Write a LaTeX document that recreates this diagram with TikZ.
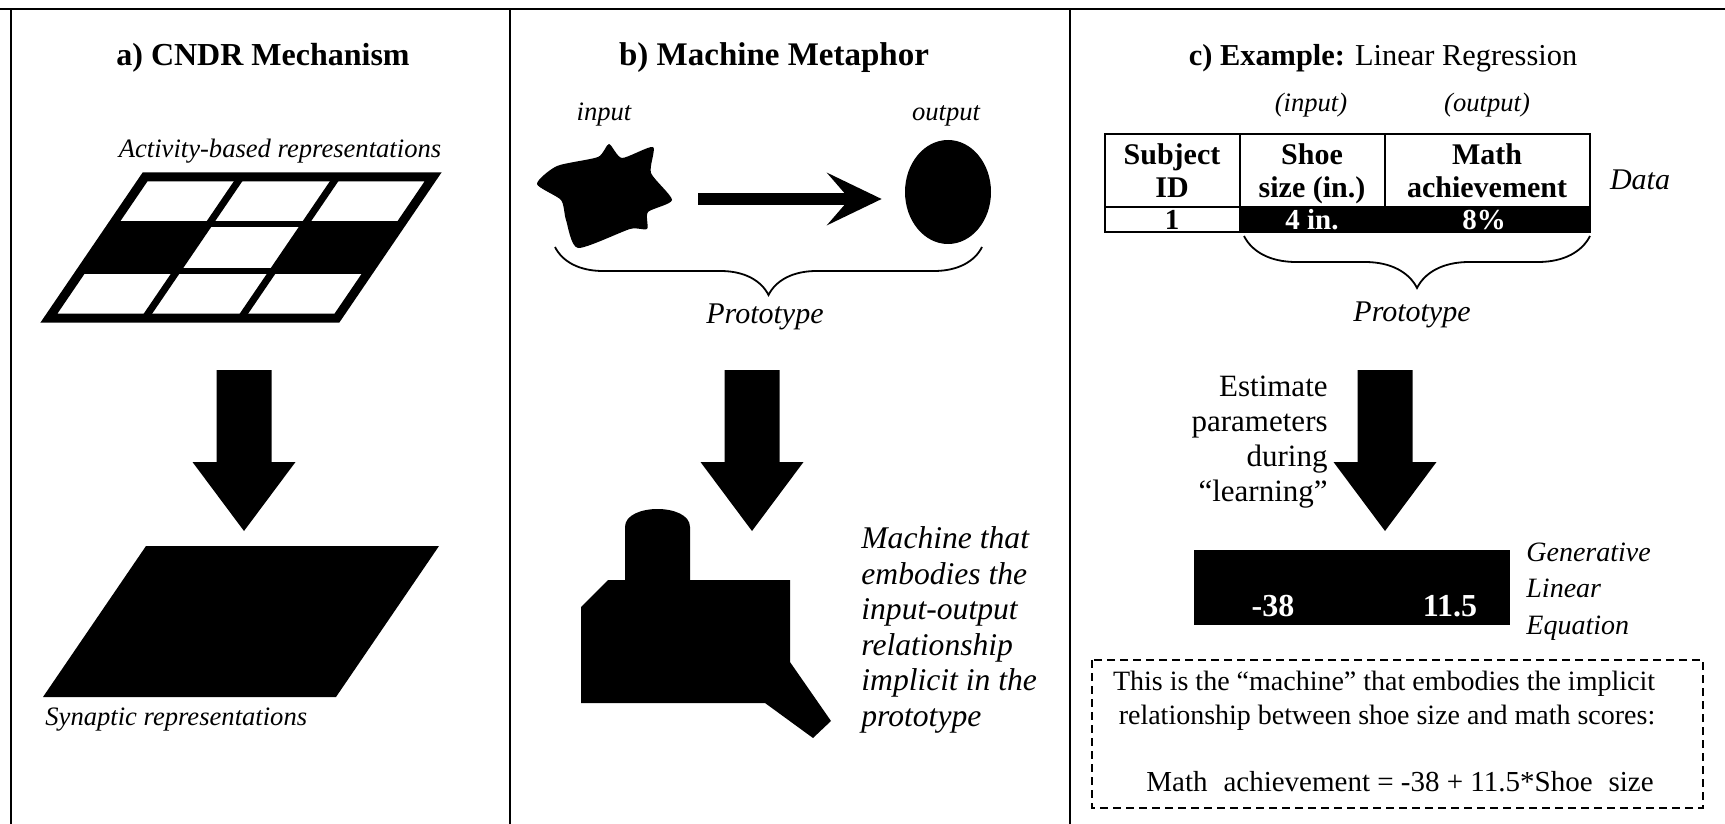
\documentclass[tikz,border=0pt]{standalone}
\usepackage{fontspec}
\setmainfont{Liberation Serif}
\usetikzlibrary{positioning,arrows.meta,shapes.geometric,decorations.pathreplacing}

% text styles (sizes in pt, one picture unit is half a point)
\tikzset{
  paneltitle/.style={anchor=base, inner sep=0pt, font=\fontsize{16.5}{19}\selectfont\bfseries},
  itlabel/.style={anchor=base, inner sep=0pt, font=\fontsize{13.3}{16}\selectfont\itshape},
  protolabel/.style={anchor=base, inner sep=0pt, font=\fontsize{15}{17.5}\selectfont\itshape},
  sidetext/.style={inner sep=0pt, font=\fontsize{15.8}{17.75}\selectfont\itshape},
  tabtext/.style={anchor=base, inner sep=0pt, font=\fontsize{15}{17}\selectfont\bfseries},
  celltext/.style={anchor=base, inner sep=0pt, font=\fontsize{14.5}{16}\selectfont\bfseries},
  boxtext/.style={anchor=base, inner sep=0pt, font=\fontsize{14}{16}\selectfont},
  frameline/.style={line width=1.25pt},
  tabline/.style={line width=1.2pt},
  protobrace/.style={decorate, decoration={brace, mirror, amplitude=#1}, line width=0.9pt},
  fatdown/.pic={
    \fill (-27.5,0) -- (27.5,0) -- (27.5,92) -- (51.5,92) -- (0,161)
      -- (-51.5,92) -- (-27.5,92) -- cycle;
  },
}

\begin{document}
\begin{tikzpicture}[x=0.5pt, y=-0.5pt]
  \useasboundingbox (0,0) rectangle (1725,824);

  % frame and panel dividers
  \draw[frameline] (0,9) -- (1725,9);
  \foreach \xd in {11,510,1070}
    \draw[frameline] (\xd,9) -- (\xd,824);

  %% a) CNDR mechanism
  \node[paneltitle, font=\fontsize{16}{19}\selectfont\bfseries] (atitle) at (263,66) {a) CNDR Mechanism};
  \node[itlabel] (activity) at (280,157) {Activity-based representations};

  % activity grid: sheared 3x3 board
  \begin{scope}[shift={(24.5pt,-159pt)}, x={(144pt,0pt)}, y={(48pt,70.5pt)}]
    \foreach \c in {0,2}
      \fill (\c/3,1/3) -- ++(1/3,0) -- ++(0,1/3) -- ++(-1/3,0) -- cycle;
    \foreach \t in {1,2} {
      \draw[line width=3.5pt] (\t/3,0) -- (\t/3,1);
      \draw[line width=3pt] (0,\t/3) -- (1,\t/3);
    }
    \draw[line width=4.5pt, line join=miter] (0,0) -- (1,0) -- (1,1) -- (0,1) -- cycle;
  \end{scope}

  \pic at (244,370) {fatdown};

  % synaptic plane
  \fill (43,697) -- (336,697) -- (439,546) -- (146,546) -- cycle;
  \node[itlabel, anchor=base west] (synaptic) at (45,725) {Synaptic representations};

  %% b) machine metaphor
  \node[paneltitle] (btitle) at (774,66) {b) Machine Metaphor};
  \node[itlabel] (inlbl) at (604,120) {input};
  \node[itlabel] (outlbl) at (946,120) {output};

  % wavy input blob
  \fill plot[smooth cycle, tension=0.4] coordinates {
    (537,184) (557,166) (598,157) (609,144) (622,158) (653,147) (651,173)
    (672,200) (648,212) (647,229) (630,229) (578,248) (566,220) (561,200)};
  \node[ellipse, fill, inner sep=0pt, minimum width=43pt, minimum height=52pt] (outdot) at (948,192) {};
  \coordinate (arrstart) at (698,199);
  \draw[line width=6pt, -{Stealth[length=27.5pt, width=26.5pt, inset=11.5pt, line width=0pt]},
    shorten >=11.5pt] (arrstart) -- (arrstart -| outdot.west);

  \coordinate (bbl) at (555,247);
  \coordinate (bbr) at (982,247);
  \draw[protobrace=24pt] (bbl) -- (bbr);
  \node[protolabel] (bproto) at (765,323) {Prototype};

  \pic at (752,370) {fatdown};

  % machine: cylinder on a box with a spout
  \fill (625,585) -- (625,527) .. controls (625,503) and (690,503) .. (690,527) -- (690,585) -- cycle;
  \fill (608,580) -- (790,580) -- (790,662) -- (831,721) -- (813,738) -- (765,703)
    -- (581,703) -- (581,607) -- cycle;
  \node[sidetext, anchor=base west, align=left] (machtext) at (861,726)
    {Machine that\\embodies the\\input-output\\relationship\\implicit in the\\prototype};

  %% c) linear regression
  \node[paneltitle, font=\fontsize{15.2}{19}\selectfont\bfseries] (ctitle) at (1383,66)
    {c) Example: \mdseries Linear Regression};
  \node[itlabel] (cin) at (1311,112) {(input)};
  \node[itlabel] (cout) at (1487,112) {(output)};

  % data table
  \fill (1240,207) rectangle (1590,232);
  \draw[tabline] (1105,134) rectangle (1590,232);
  \draw[tabline] (1105,207) -- (1590,207);
  \draw[tabline] (1240,134) -- (1240,232);
  \draw[tabline] (1385,134) -- (1385,207);
  \foreach \cx/\ta/\tb/\nm in {1172/Subject/ID/subj, 1312/Shoe/size (in.)/shoe, 1487/Math/achievement/math} {
    \node[tabtext] (\nm top) at (\cx,164) {\ta};
    \node[tabtext] (\nm bot) at (\cx,198) {\tb};
  }
  \node[celltext] (dsubj) at (1172,229) {1};
  \node[celltext, text=white] (dshoe) at (1312,229) {4 in.};
  \node[celltext, text=white] (dmath) at (1484,229) {8\%};
  \node[protolabel] (datalbl) at (1640,190) {Data};

  \coordinate (cbl) at (1244,236);
  \coordinate (cbr) at (1590,236);
  \draw[protobrace=26pt] (cbl) -- (cbr);
  \node[protolabel] (cproto) at (1412,321) {Prototype};

  \pic at (1385,370) {fatdown};
  \node[sidetext, font=\fontsize{15.5}{17.5}\selectfont, anchor=base east, align=right] (estim) at (1328,501)
    {Estimate\\parameters\\during\\``learning''};

  % fitted coefficients
  \fill (1194,550) rectangle (1510,625);
  \node[celltext, font=\fontsize{16}{18}\selectfont\bfseries, text=white] (coefa) at (1273,616) {-38};
  \node[celltext, font=\fontsize{16}{18}\selectfont\bfseries, text=white] (coefb) at (1450,616) {11.5};
  \node[sidetext, font=\fontsize{14}{18.25}\selectfont\itshape, anchor=base west, align=left] (genlbl) at (1526,634)
    {Generative\\Linear\\Equation};

  \draw[line width=1pt, dash pattern=on 4pt off 2.5pt] (1092,660) rectangle (1703,808);
  \node[boxtext] (mach1) at (1384,690) {This is the ``machine'' that embodies the implicit};
  \node[boxtext] (mach2) at (1387,724) {relationship between shoe size and math scores:};
  \node[boxtext, font=\fontsize{14.5}{16}\selectfont] (mach3) at (1400,791)
    {Math\hspace{0.55em}achievement = -38 + 11.5*Shoe\hspace{0.55em}size};
\end{tikzpicture}
\end{document}
